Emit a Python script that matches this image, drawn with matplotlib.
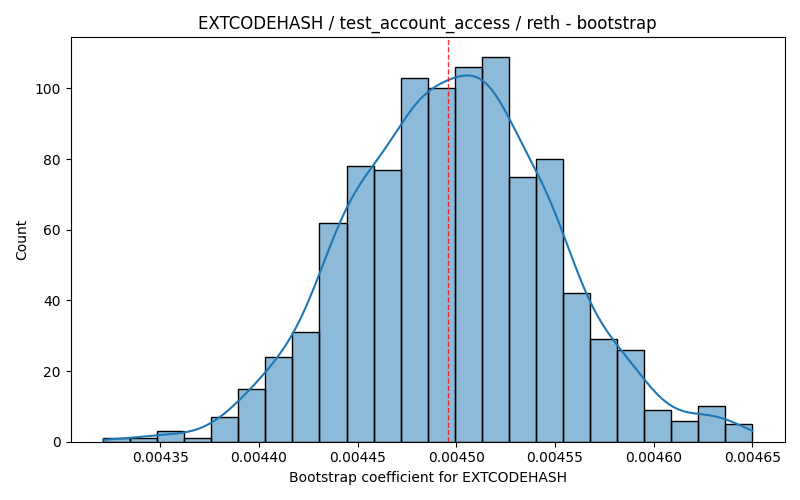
import numpy as np
import matplotlib
matplotlib.use("Agg")
import matplotlib.pyplot as plt

counts = [1, 1, 3, 1, 7, 15, 24, 31, 62, 78, 77, 103, 100, 106, 109, 75, 80, 42, 29, 26, 9, 6, 10, 5]
x_min = 0.004321
x_max = 0.004650
mean_value = 0.004496
title = "EXTCODEHASH / test_account_access / reth - bootstrap"
xlabel = "Bootstrap coefficient for EXTCODEHASH"
ylabel = "Count"

counts = np.array(counts, dtype=float)
edges = np.linspace(x_min, x_max, len(counts) + 1)
centers = (edges[:-1] + edges[1:]) / 2
width = edges[1] - edges[0]

fig, ax = plt.subplots(figsize=(8, 5), dpi=100)
ax.bar(edges[:-1], counts, width=width, align="edge",
       color="#1f77b4", alpha=0.5, edgecolor="none")
ax.bar(edges[:-1], counts, width=width, align="edge",
       fill=False, edgecolor="black", linewidth=1)

# KDE from binned data (weighted Gaussian, Scott bandwidth)
n = counts.sum()
mu = np.sum(centers * counts) / n
var = np.sum(counts * (centers - mu) ** 2) / n
bw = np.sqrt(var) * n ** (-1 / 5)
xs = np.linspace(x_min, x_max, 400)
dens = np.sum(counts[None, :] * np.exp(-0.5 * ((xs[:, None] - centers[None, :]) / bw) ** 2), axis=1)
dens /= (n * bw * np.sqrt(2 * np.pi))
ax.plot(xs, dens * n * width, color="#1f77b4", linewidth=1.5)

ax.axvline(mean_value, color="red", linestyle="--", linewidth=1, alpha=0.8)

ax.set_xlim(x_min - 0.05 * (x_max - x_min), x_max + 0.05 * (x_max - x_min))
ax.set_ylim(0, counts.max() * 1.05)
ax.set_xticks([0.00435, 0.00440, 0.00445, 0.00450, 0.00455, 0.00460, 0.00465])
ax.set_xticklabels(["0.00435", "0.00440", "0.00445", "0.00450", "0.00455", "0.00460", "0.00465"])
ax.set_title(title)
ax.set_xlabel(xlabel)
ax.set_ylabel(ylabel)
fig.tight_layout()
fig.savefig("out.png")
